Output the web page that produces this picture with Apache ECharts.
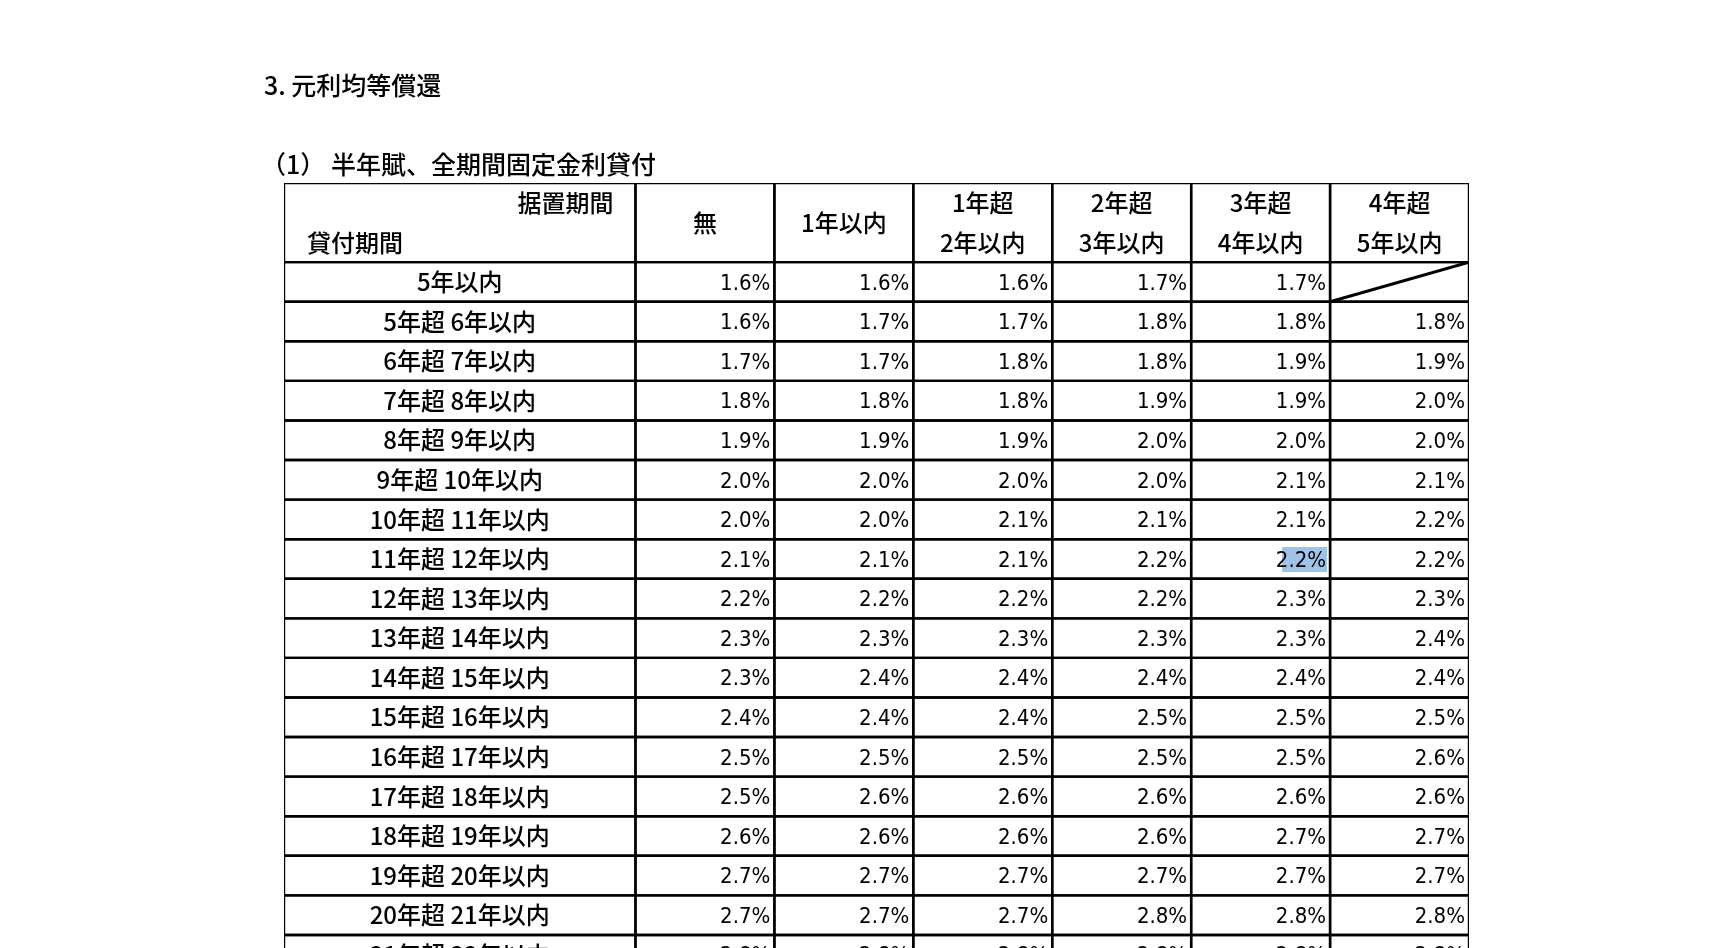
<!DOCTYPE html>
<html><head><meta charset="utf-8">
<script src="https://cdn.jsdelivr.net/npm/echarts@6/dist/echarts.min.js"></script>
<style>html,body{margin:0;padding:0;background:#fff}#c{width:1722px;height:948px}</style>
</head><body><div id="c"></div>
<script>
const title = '3. 元利均等償還';
const subtitle = '（1） 半年賦、全期間固定金利貸付';
const columns = ['無', '1年以内', '1年超\n2年以内', '2年超\n3年以内', '3年超\n4年以内', '4年超\n5年以内'];
const rows = ['5年以内','5年超 6年以内','6年超 7年以内','7年超 8年以内','8年超 9年以内','9年超 10年以内','10年超 11年以内','11年超 12年以内','12年超 13年以内','13年超 14年以内','14年超 15年以内','15年超 16年以内','16年超 17年以内','17年超 18年以内','18年超 19年以内','19年超 20年以内','20年超 21年以内','21年超 22年以内'];
const values = [
 [1.6,1.6,1.6,1.7,1.7,null],
 [1.6,1.7,1.7,1.8,1.8,1.8],
 [1.7,1.7,1.8,1.8,1.9,1.9],
 [1.8,1.8,1.8,1.9,1.9,2.0],
 [1.9,1.9,1.9,2.0,2.0,2.0],
 [2.0,2.0,2.0,2.0,2.1,2.1],
 [2.0,2.0,2.1,2.1,2.1,2.2],
 [2.1,2.1,2.1,2.2,2.2,2.2],
 [2.2,2.2,2.2,2.2,2.3,2.3],
 [2.3,2.3,2.3,2.3,2.3,2.4],
 [2.3,2.4,2.4,2.4,2.4,2.4],
 [2.4,2.4,2.4,2.5,2.5,2.5],
 [2.5,2.5,2.5,2.5,2.5,2.6],
 [2.5,2.6,2.6,2.6,2.6,2.6],
 [2.6,2.6,2.6,2.6,2.7,2.7],
 [2.7,2.7,2.7,2.7,2.7,2.7],
 [2.7,2.7,2.7,2.8,2.8,2.8],
 [2.8,2.8,2.8,2.8,2.8,2.8]
];
const highlight = [7, 4];

const FIRST = 2.53, HEAD = 2;
const JP = '"Noto Sans CJK JP","Noto Sans",sans-serif';
const NUM = '"DejaVu Sans Condensed","Liberation Sans Narrow","Liberation Sans",sans-serif';
const colX = c => c < 0 ? 0 : FIRST + c;
const data = [];
data.push({value:[-1,-1], kind:'h0'});
columns.forEach((t,c)=>data.push({value:[c,-1], kind:'h', text:t}));
rows.forEach((r,i)=>{
  data.push({value:[-1,i], kind:'r', text:r});
  values[i].forEach((v,c)=>data.push({value:[c,i], kind:'v', v:v}));
});

function renderItem(params, api) {
  const d = data[params.dataIndex];
  const c = d.value[0], r = d.value[1];
  const x0 = colX(c), x1 = c < 0 ? FIRST : FIRST + c + 1;
  const y0 = r < 0 ? 0 : HEAD + r, y1 = r < 0 ? HEAD : HEAD + r + 1;
  const p0 = api.coord([x0, y0]), p1 = api.coord([x1, y1]);
  const w = p1[0]-p0[0], h = p1[1]-p0[1];
  const ch = [{type:'rect', shape:{x:p0[0],y:p0[1],width:w,height:h},
    style:{fill:'none', stroke:'#000', lineWidth:2.4}}];
  const cx = p0[0]+w/2, cy = p0[1]+h/2;
  const F = '500 24px '+JP;
  if (d.kind==='h0') {
    ch.push({type:'text', style:{text:'据置期間', x:p1[0]-22, y:p0[1]+20, align:'right', verticalAlign:'middle', font:F, fill:'#000'}});
    ch.push({type:'text', style:{text:'貸付期間', x:p0[0]+23, y:p0[1]+60, align:'left', verticalAlign:'middle', font:F, fill:'#000'}});
  } else if (d.kind==='h') {
    const lines = d.text.split('\n');
    if (lines.length===1) ch.push({type:'text', style:{text:lines[0], x:cx, y:cy, align:'center', verticalAlign:'middle', font:F, fill:'#000'}});
    else lines.forEach((l,k)=>ch.push({type:'text', style:{text:l, x:cx, y:p0[1]+20+k*40, align:'center', verticalAlign:'middle', font:F, fill:'#000'}}));
  } else if (d.kind==='r') {
    ch.push({type:'text', style:{text:d.text, x:cx, y:cy, align:'center', verticalAlign:'middle', font:F, fill:'#000'}});
  } else {
    if (d.v == null) {
      ch.push({type:'line', shape:{x1:p0[0],y1:p1[1],x2:p1[0],y2:p0[1]}, style:{stroke:'#000', lineWidth:3}});
    } else {
      const t = d.v.toFixed(1)+'%';
      if (r===highlight[0] && c===highlight[1]) {
        ch.push({type:'rect', shape:{x:p1[0]-48, y:cy-12, width:45, height:25}, style:{fill:'#9ec3e6'}});
      }
      ch.push({type:'text', style:{text:t, x:p1[0]-4, y:cy+2, align:'right', verticalAlign:'middle', font:'22px '+NUM, fill:'#000'}});
    }
  }
  return {type:'group', children:ch};
}

const chart = echarts.init(document.getElementById('c'));
chart.setOption({
  animation:false,
  title:[
    {text:title, left:259, top:68, textStyle:{fontFamily:JP, fontSize:25, fontWeight:500, color:'#000'}},
    {text:subtitle, left:256, top:147, textStyle:{fontFamily:JP, fontSize:25, fontWeight:500, color:'#000'}}
  ],
  grid:{left:284, right:253, top:183, bottom:0, containLabel:false},
  xAxis:{type:'value', min:0, max:FIRST+6, show:false},
  yAxis:{type:'value', min:0, max:19.33, inverse:true, show:false},
  series:[{type:'custom', renderItem, data:data.map(d=>d.value), clip:true}]
});
</script></body></html>
